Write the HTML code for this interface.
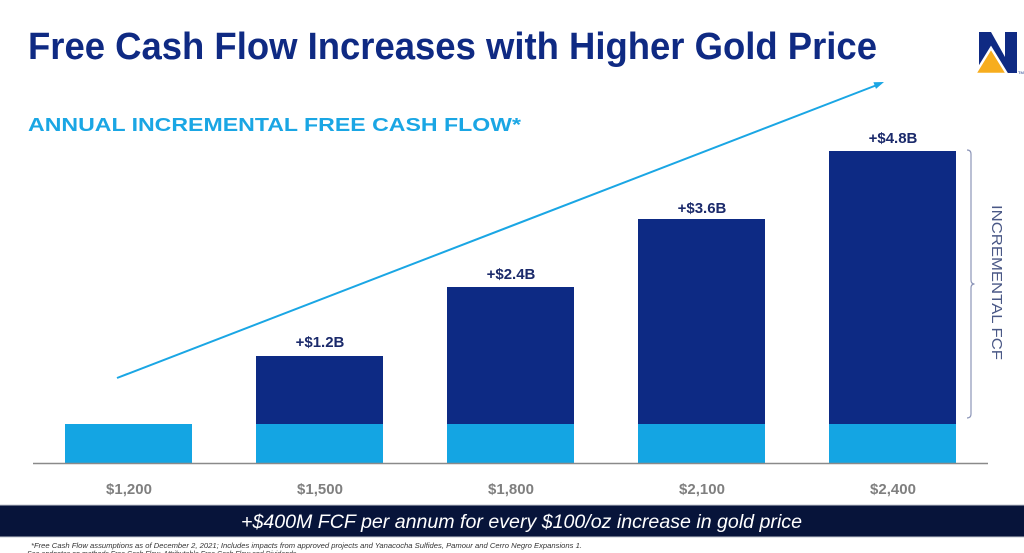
<!DOCTYPE html>
<html>
<head>
<meta charset="utf-8">
<style>
  html, body { margin: 0; padding: 0; background: #ffffff; }
  body { width: 1024px; height: 553px; overflow: hidden; }
  svg { display: block; }
</style>
</head>
<body>
<svg width="1024" height="553" viewBox="0 0 1024 553" xmlns="http://www.w3.org/2000/svg">
  <rect x="0" y="0" width="1024" height="553" fill="#ffffff"/>

  <!-- Title -->
  <text x="28" y="59" font-family="Liberation Sans, sans-serif" font-weight="bold" font-size="38" fill="#0f2a83" textLength="849" lengthAdjust="spacingAndGlyphs">Free Cash Flow Increases with Higher Gold Price</text>

  <!-- Logo -->
  <polygon points="979,32 991,32 1005,57 1005,32 1017,32 1017,73 1005,73 991,48 991,73 979,73" fill="#0f2a83"/>
  <polygon points="991,48 1007,74 975,74" fill="#f7ad1e" stroke="#ffffff" stroke-width="2.5" stroke-linejoin="miter"/>
  <text x="1018" y="74" font-family="Liberation Sans, sans-serif" font-size="4" fill="#0f2a83">TM</text>

  <!-- Subtitle -->
  <text x="28" y="131" font-family="Liberation Sans, sans-serif" font-weight="bold" font-size="18" fill="#1aa6e4" textLength="493" lengthAdjust="spacingAndGlyphs">ANNUAL INCREMENTAL FREE CASH FLOW*</text>

  <!-- Arrow -->
  <line x1="117" y1="378" x2="877" y2="85" stroke="#1aa6e4" stroke-width="2"/>
  <polygon points="884,82 876,88.9 873.4,82.3" fill="#1aa6e4"/>

  <!-- Bars: dark (incremental) -->
  <rect x="256" y="356" width="127" height="68" fill="#0d2a84"/>
  <rect x="447" y="287" width="127" height="137" fill="#0d2a84"/>
  <rect x="638" y="219" width="127" height="205" fill="#0d2a84"/>
  <rect x="829" y="151" width="127" height="273" fill="#0d2a84"/>

  <!-- Bars: light (base) -->
  <rect x="65" y="424" width="127" height="39" fill="#14a5e3"/>
  <rect x="256" y="424" width="127" height="39" fill="#14a5e3"/>
  <rect x="447" y="424" width="127" height="39" fill="#14a5e3"/>
  <rect x="638" y="424" width="127" height="39" fill="#14a5e3"/>
  <rect x="829" y="424" width="127" height="39" fill="#14a5e3"/>

  <!-- Axis line -->
  <line x1="33" y1="463.5" x2="988" y2="463.5" stroke="#8a8a8a" stroke-width="1.5"/>

  <!-- Value labels -->
  <g font-family="Liberation Sans, sans-serif" font-weight="bold" font-size="15" fill="#1b2a6b" text-anchor="middle">
    <text x="320" y="347">+$1.2B</text>
    <text x="511" y="279">+$2.4B</text>
    <text x="702" y="213">+$3.6B</text>
    <text x="893" y="143">+$4.8B</text>
  </g>

  <!-- Axis labels -->
  <g font-family="Liberation Sans, sans-serif" font-weight="bold" font-size="15" fill="#7f7f7f" text-anchor="middle">
    <text x="129" y="494">$1,200</text>
    <text x="320" y="494">$1,500</text>
    <text x="511" y="494">$1,800</text>
    <text x="702" y="494">$2,100</text>
    <text x="893" y="494">$2,400</text>
  </g>

  <!-- Bracket -->
  <path d="M967,150 Q971,150 971,154 L971,280 Q971,284 974.5,284 Q971,284 971,288 L971,414 Q971,418 967,418" fill="none" stroke="#8c95b8" stroke-width="1.2"/>

  <!-- Rotated label -->
  <text transform="translate(992,205) rotate(90)" x="0" y="0" font-family="Liberation Sans, sans-serif" font-size="15" fill="#4a5886" textLength="155" lengthAdjust="spacingAndGlyphs">INCREMENTAL FCF</text>

  <!-- Footer band -->
  <rect x="0" y="505" width="1024" height="32" fill="#07143a"/>
  <line x1="0" y1="505" x2="1024" y2="505" stroke="#c4c8d0" stroke-width="1"/>
  <line x1="0" y1="537" x2="1024" y2="537" stroke="#c4c8d0" stroke-width="1"/>
  <text x="241" y="528" font-family="Liberation Sans, sans-serif" font-style="italic" font-size="19" fill="#ffffff" textLength="561" lengthAdjust="spacingAndGlyphs">+$400M FCF per annum for every $100/oz increase in gold price</text>

  <!-- Footnotes -->
  <text x="31" y="548" font-family="Liberation Sans, sans-serif" font-style="italic" font-size="7" fill="#333333" textLength="551" lengthAdjust="spacingAndGlyphs">*Free Cash Flow assumptions as of December 2, 2021; Includes impacts from approved projects and Yanacocha Sulfides, Pamour and Cerro Negro Expansions 1.</text>
  <text x="27" y="556" font-family="Liberation Sans, sans-serif" font-style="italic" font-size="7" fill="#333333">See endnotes on methods Free Cash Flow, Attributable Free Cash Flow and Dividends.</text>
</svg>
</body>
</html>
